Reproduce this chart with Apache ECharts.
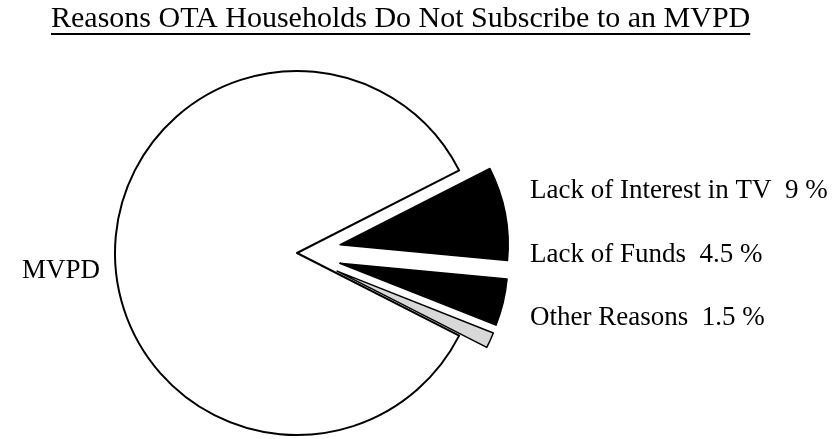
<!DOCTYPE html>
<html>
<head>
<meta charset="utf-8">
<script src="https://cdn.jsdelivr.net/npm/echarts@6/dist/echarts.min.js"></script>
<style>
  html, body { margin: 0; padding: 0; background: #fff; }
  #chart { width: 836px; height: 439px; }
</style>
</head>
<body>
<div id="chart"></div>
<script>
// Reasons OTA households do not subscribe to an MVPD

const titleText = 'Reasons OTA Households Do Not Subscribe to an MVPD';
const categories = ['Lack of Interest in TV', 'Lack of Funds', 'Other Reasons', 'MVPD'];
const shares = [9, 4.5, 1.5, 85];
const sliceColors = ['#000', '#000', '#d8d8d8', '#fff'];
const reasonNames = categories.slice(0, 3);

const FONT = '"Liberation Serif", "DejaVu Serif", serif';
const CENTER = [297, 253];

// 标题下划线宽度
function textWidth(str, size) {
    const ctx = document.createElement('canvas').getContext('2d');
    ctx.font = size + 'px ' + FONT;
    return ctx.measureText(str).width;
}

const shareOf = {};
categories.forEach((c, i) => { shareOf[c] = shares[i]; });

// 大扇形 MVPD
const mvpdData = categories.map((name, i) => {
    const isMvpd = name === 'MVPD';
    return {
        name,
        value: shares[i],
        itemStyle: isMvpd
            ? { color: '#fff', borderColor: '#000', borderWidth: 2 }
            : { color: 'rgba(0,0,0,0)', borderWidth: 0 },
        label: { show: isMvpd }
    };
});

// 分离出来的小扇形
const reasonData = categories.map((name, i) => {
    const isMvpd = name === 'MVPD';
    return {
        name,
        value: shares[i],
        selected: !isMvpd,
        itemStyle: isMvpd
            ? { color: 'rgba(0,0,0,0)', borderWidth: 0 }
            : { color: sliceColors[i], borderColor: '#000', borderWidth: 1.5 }
    };
});

const chart = echarts.init(document.getElementById('chart'));
const titleSize = 30;
const titleLeft = 51;
const tw = textWidth(titleText, titleSize);

chart.setOption({
    animation: false,
    title: {
        text: titleText,
        left: titleLeft,
        top: 4,
        padding: 0,
        textStyle: { fontFamily: FONT, fontSize: titleSize, fontWeight: 'normal', color: '#000' }
    },
    graphic: [{
        type: 'line',
        shape: { x1: titleLeft, y1: 34, x2: titleLeft + tw, y2: 34 },
        style: { stroke: '#000', lineWidth: 2 }
    }],
    legend: {
        data: reasonNames,
        orient: 'vertical',
        left: 520,
        top: 171,
        icon: 'none',
        itemWidth: 0,
        itemHeight: 10,
        itemGap: 33.5,
        selectedMode: false,
        formatter: name => name + '  ' + shareOf[name] + ' %',
        textStyle: { fontFamily: FONT, fontSize: 27, color: '#000', lineHeight: 30 }
    },
    series: [
        {
            type: 'pie',
            silent: true,
            center: CENTER,
            radius: 182,
            startAngle: 27,
            clockwise: true,
            label: {
                position: 'outside',
                formatter: '{b}',
                fontFamily: FONT,
                fontSize: 27,
                color: '#000'
            },
            labelLayout: { dy: 18 },
            labelLine: { show: false, length: 4, length2: 6 },
            data: mvpdData
        },
        {
            type: 'pie',
            silent: true,
            center: CENTER,
            radius: 168,
            startAngle: 27,
            clockwise: true,
            selectedMode: 'multiple',
            selectedOffset: 44,
            label: { show: false },
            labelLine: { show: false },
            data: reasonData
        }
    ]
});
</script>
</body>
</html>
